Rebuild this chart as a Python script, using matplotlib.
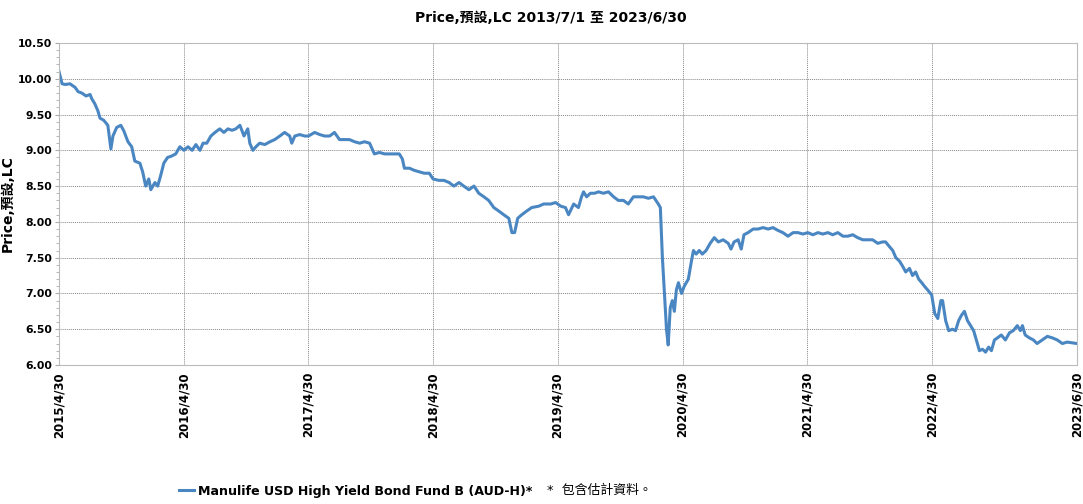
import matplotlib
matplotlib.use("Agg")
import matplotlib.pyplot as plt
from matplotlib.ticker import MultipleLocator, FormatStrFormatter
import pandas as pd

plt.rcParams['font.family'] = ['DejaVu Sans', 'Noto Sans CJK TC']

title = "Price,預設,LC 2013/7/1 至 2023/6/30"
y_label = "Price,預設,LC"
series_name = "Manulife USD High Yield Bond Fund B (AUD-H)*"
note = "*  包含估計資料。"

tick_dates = ["2015-04-30", "2016-04-30", "2017-04-30", "2018-04-30", "2019-04-30",
              "2020-04-30", "2021-04-30", "2022-04-30", "2023-06-30"]
tick_labels = ["2015/4/30", "2016/4/30", "2017/4/30", "2018/4/30", "2019/4/30",
               "2020/4/30", "2021/4/30", "2022/4/30", "2023/6/30"]

dates = [
    "2015-04-30", "2015-05-09", "2015-05-18", "2015-06-01", "2015-06-16", "2015-06-25",
    "2015-07-06", "2015-07-18", "2015-07-30", "2015-08-04", "2015-08-13", "2015-08-22",
    "2015-08-28", "2015-09-08", "2015-09-20", "2015-09-29", "2015-10-05", "2015-10-16",
    "2015-10-28", "2015-11-06", "2015-11-18", "2015-11-29", "2015-12-08", "2015-12-23",
    "2015-12-31", "2016-01-09", "2016-01-18", "2016-01-24", "2016-02-05", "2016-02-13",
    "2016-02-22", "2016-03-02", "2016-03-13", "2016-03-25", "2016-04-06", "2016-04-18",
    "2016-04-30", "2016-05-12", "2016-05-24", "2016-06-04", "2016-06-16", "2016-06-25",
    "2016-07-06", "2016-07-18", "2016-07-30", "2016-08-13", "2016-08-25", "2016-09-06",
    "2016-09-18", "2016-09-29", "2016-10-11", "2016-10-23", "2016-11-03", "2016-11-09",
    "2016-11-18", "2016-11-27", "2016-12-08", "2016-12-23", "2017-01-07", "2017-01-21",
    "2017-02-05", "2017-02-19", "2017-03-06", "2017-03-12", "2017-03-21", "2017-04-04",
    "2017-04-19", "2017-04-30", "2017-05-18", "2017-06-02", "2017-06-16", "2017-07-01",
    "2017-07-15", "2017-07-30", "2017-08-14", "2017-08-28", "2017-09-12", "2017-09-27",
    "2017-10-11", "2017-10-26", "2017-11-09", "2017-11-24", "2017-12-09", "2017-12-23",
    "2018-01-07", "2018-01-21", "2018-01-30", "2018-02-05", "2018-02-20", "2018-03-06",
    "2018-03-21", "2018-04-04", "2018-04-19", "2018-04-30", "2018-05-17", "2018-06-01",
    "2018-06-16", "2018-06-30", "2018-07-15", "2018-07-29", "2018-08-13", "2018-08-28",
    "2018-09-11", "2018-09-26", "2018-10-10", "2018-10-25", "2018-11-09", "2018-11-23",
    "2018-12-08", "2018-12-17", "2018-12-25", "2019-01-03", "2019-01-15", "2019-01-29",
    "2019-02-13", "2019-03-06", "2019-03-20", "2019-04-10", "2019-04-24", "2019-05-09",
    "2019-05-23", "2019-06-01", "2019-06-16", "2019-06-30", "2019-07-09", "2019-07-15",
    "2019-07-24", "2019-08-04", "2019-08-16", "2019-08-28", "2019-09-11", "2019-09-26",
    "2019-10-11", "2019-10-25", "2019-11-09", "2019-11-23", "2019-12-08", "2019-12-23",
    "2020-01-06", "2020-01-21", "2020-02-05", "2020-02-19", "2020-02-25", "2020-03-02",
    "2020-03-08", "2020-03-14", "2020-03-19", "2020-03-25", "2020-03-31", "2020-04-06",
    "2020-04-12", "2020-04-18", "2020-04-27", "2020-05-05", "2020-05-17", "2020-05-26",
    "2020-06-01", "2020-06-09", "2020-06-18", "2020-06-27", "2020-07-08", "2020-07-20",
    "2020-08-01", "2020-08-13", "2020-08-27", "2020-09-11", "2020-09-19", "2020-09-28",
    "2020-10-10", "2020-10-19", "2020-10-27", "2020-11-08", "2020-11-23", "2020-12-07",
    "2020-12-22", "2021-01-06", "2021-01-20", "2021-02-04", "2021-02-18", "2021-03-05",
    "2021-03-20", "2021-04-03", "2021-04-18", "2021-05-02", "2021-05-17", "2021-06-01",
    "2021-06-15", "2021-06-30", "2021-07-14", "2021-07-29", "2021-08-13", "2021-08-27",
    "2021-09-11", "2021-09-25", "2021-10-10", "2021-10-25", "2021-11-08", "2021-11-23",
    "2021-12-07", "2021-12-16", "2021-12-28", "2022-01-06", "2022-01-15", "2022-01-26",
    "2022-02-04", "2022-02-13", "2022-02-24", "2022-03-05", "2022-03-14", "2022-03-23",
    "2022-04-01", "2022-04-09", "2022-04-18", "2022-04-30", "2022-05-09", "2022-05-18",
    "2022-05-27", "2022-06-01", "2022-06-10", "2022-06-19", "2022-06-30", "2022-07-09",
    "2022-07-18", "2022-07-27", "2022-08-04", "2022-08-13", "2022-08-22", "2022-08-31",
    "2022-09-08", "2022-09-17", "2022-09-26", "2022-10-05", "2022-10-14", "2022-10-22",
    "2022-10-31", "2022-11-09", "2022-11-20", "2022-12-02", "2022-12-14", "2022-12-25",
    "2023-01-06", "2023-01-15", "2023-01-21", "2023-01-29", "2023-02-10", "2023-02-22",
    "2023-03-05", "2023-03-20", "2023-04-04", "2023-04-18", "2023-05-03", "2023-05-18",
    "2023-06-01", "2023-06-30",
]

prices = [
    10.10, 9.93, 9.92, 9.93, 9.88, 9.82,
    9.80, 9.76, 9.78, 9.72, 9.65, 9.55,
    9.45, 9.42, 9.35, 9.02, 9.20, 9.32,
    9.35, 9.27, 9.12, 9.05, 8.85, 8.82,
    8.70, 8.50, 8.60, 8.45, 8.55, 8.50,
    8.65, 8.82, 8.90, 8.92, 8.95, 9.05,
    9.00, 9.05, 9.00, 9.08, 9.00, 9.10,
    9.10, 9.20, 9.25, 9.30, 9.25, 9.30,
    9.28, 9.30, 9.35, 9.20, 9.30, 9.10,
    9.00, 9.05, 9.10, 9.08, 9.12, 9.15,
    9.20, 9.25, 9.20, 9.10, 9.20, 9.22,
    9.20, 9.20, 9.25, 9.22, 9.20, 9.20,
    9.25, 9.15, 9.15, 9.15, 9.12, 9.10,
    9.12, 9.10, 8.95, 8.97, 8.95, 8.95,
    8.95, 8.95, 8.88, 8.75, 8.75, 8.72,
    8.70, 8.68, 8.68, 8.60, 8.58, 8.58,
    8.55, 8.50, 8.55, 8.50, 8.45, 8.50,
    8.40, 8.35, 8.30, 8.20, 8.15, 8.10,
    8.05, 7.85, 7.85, 8.05, 8.10, 8.15,
    8.20, 8.22, 8.25, 8.25, 8.27, 8.22,
    8.20, 8.10, 8.25, 8.20, 8.35, 8.42,
    8.35, 8.40, 8.40, 8.42, 8.40, 8.42,
    8.35, 8.30, 8.30, 8.25, 8.35, 8.35,
    8.35, 8.33, 8.35, 8.25, 8.20, 7.50,
    7.00, 6.50, 6.28, 6.80, 6.90, 6.75,
    7.05, 7.15, 7.00, 7.10, 7.20, 7.45,
    7.60, 7.55, 7.60, 7.55, 7.60, 7.70,
    7.78, 7.72, 7.75, 7.70, 7.62, 7.72,
    7.75, 7.62, 7.82, 7.85, 7.90, 7.90,
    7.92, 7.90, 7.92, 7.88, 7.85, 7.80,
    7.85, 7.85, 7.83, 7.85, 7.82, 7.85,
    7.83, 7.85, 7.82, 7.85, 7.80, 7.80,
    7.82, 7.78, 7.75, 7.75, 7.75, 7.70,
    7.72, 7.72, 7.65, 7.60, 7.50, 7.45,
    7.38, 7.30, 7.35, 7.25, 7.30, 7.20,
    7.15, 7.10, 7.05, 6.98, 6.72, 6.65,
    6.90, 6.90, 6.62, 6.48, 6.50, 6.48,
    6.62, 6.70, 6.75, 6.62, 6.55, 6.48,
    6.35, 6.20, 6.22, 6.18, 6.25, 6.20,
    6.35, 6.38, 6.42, 6.35, 6.45, 6.48,
    6.55, 6.48, 6.55, 6.42, 6.38, 6.35,
    6.30, 6.35, 6.40, 6.38, 6.35, 6.30,
    6.32, 6.30,
]

line_color = "#4a87c2"

fig = plt.figure(figsize=(10.83, 5.04), dpi=100)
ax = fig.add_axes([0.0545, 0.2758, 0.94, 0.6389])

x = pd.to_datetime(dates)
ax.plot(x, prices, color=line_color, linewidth=2.2, label=series_name)

ax.set_xlim(pd.Timestamp(tick_dates[0]), pd.Timestamp(tick_dates[-1]))
ax.set_ylim(6.0, 10.5)
ax.set_xticks(pd.to_datetime(tick_dates))
ax.set_xticklabels(tick_labels, rotation=90, fontsize=8.5, fontweight="bold")
ax.yaxis.set_major_locator(MultipleLocator(0.5))
ax.yaxis.set_minor_locator(MultipleLocator(0.1))
ax.yaxis.set_major_formatter(FormatStrFormatter("%.2f"))
for lbl in ax.get_yticklabels():
    lbl.set_fontsize(7.8)
    lbl.set_fontweight("bold")

ax.tick_params(axis="x", length=0, pad=5)
ax.tick_params(axis="y", which="major", length=3, color="#aaaaaa", pad=2)
ax.tick_params(axis="y", which="minor", length=2, color="#aaaaaa")
ax.grid(True, which="major", color="#888888", linestyle=(0, (1, 1)), linewidth=0.7)
for s in ax.spines.values():
    s.set_color("#bbbbbb")

ax.set_ylabel(y_label, fontsize=10, fontweight="bold")
ax.yaxis.set_label_coords(-0.043, 0.5)
fig.suptitle(title, x=0.509, y=0.978, fontsize=10, fontweight="bold")

leg = fig.legend(loc="lower left", bbox_to_anchor=(0.155, -0.01), frameon=False,
                 handlelength=1.2, handletextpad=0.3,
                 prop={"weight": "bold", "size": 9.1})
fig.text(0.505, 0.0135, note, fontsize=9.3, ha="left", va="bottom")

fig.savefig("out.png", dpi=100)
